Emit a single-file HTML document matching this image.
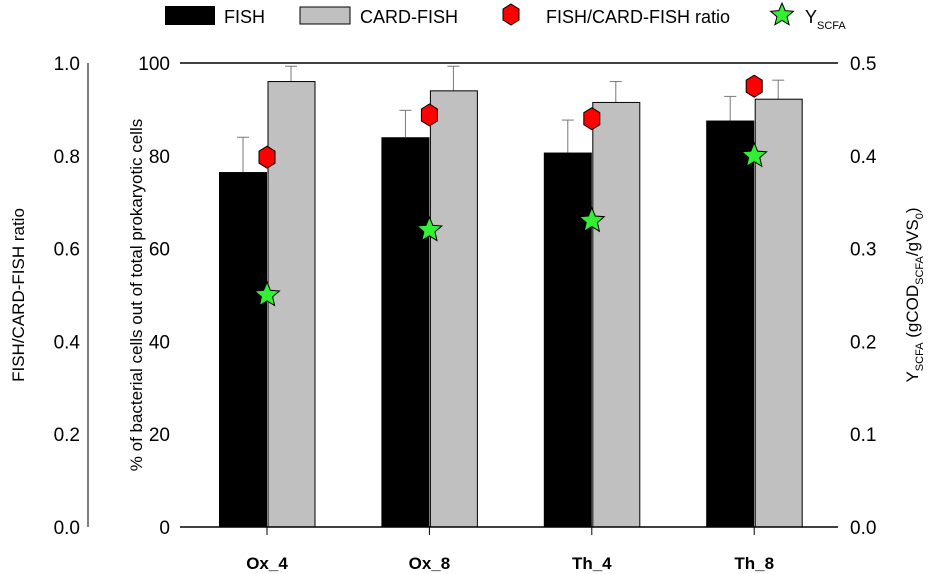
<!DOCTYPE html>
<html><head><meta charset="utf-8"><style>
body{margin:0;background:#fff;}
svg{display:block;font-family:"Liberation Sans",Arial,sans-serif;}
</style></head><body>
<svg id="chart" width="935" height="574">
<g id="legend">
 <rect x="165" y="6" width="50" height="19" fill="#000"/>
 <text x="224" y="23" font-size="18">FISH</text>
 <rect x="300" y="7" width="50" height="17" fill="#c0c0c0" stroke="#000"/>
 <text x="360" y="23" font-size="18">CARD-FISH</text>
 <polygon points="511,4 519,9 519,20 511,25 503,20 503,9" fill="#f00" stroke="#000"/>
 <text x="546" y="23" font-size="18">FISH/CARD-FISH ratio</text>
 <polygon id="legstar" fill="#33ee33" stroke="#000"/>
 <text x="805" y="23" font-size="18">Y<tspan font-size="11" dy="6">SCFA</tspan></text>
</g>
<text transform="translate(24,295) rotate(-90)" text-anchor="middle" font-size="17">FISH/CARD-FISH ratio</text>
<text transform="translate(142,295) rotate(-90)" text-anchor="middle" font-size="17">% of bacterial cells out of total prokaryotic cells</text>
<text transform="translate(918,295) rotate(-90)" text-anchor="middle" font-size="17">Y<tspan font-size="11" dy="5">SCFA</tspan><tspan dy="-5"> (gCOD</tspan><tspan font-size="11" dy="5">SCFA</tspan><tspan dy="-5">/gVS</tspan><tspan font-size="11" dy="5">0</tspan><tspan dy="-5">)</tspan></text>
<g id="g"></g>
</svg>
<script>
const categories=["Ox_4","Ox_8","Th_4","Th_8"];
const fishValues=[76.5,84,80.7,87.6];
const fishErr=[7.5,5.8,7,5.2];
const cardValues=[96,94,91.5,92.2];
const cardErr=[3.3,5.3,4.5,4.1];
const ratioValues=[0.797,0.888,0.88,0.95];
const yscfaValues=[0.25,0.32,0.33,0.40];
const midTicks=[0,20,40,60,80,100];
const leftTicks=["0.0","0.2","0.4","0.6","0.8","1.0"];
const rightTicks=["0.0","0.1","0.2","0.3","0.4","0.5"];

const NS="http://www.w3.org/2000/svg";
const g=document.getElementById('g');
const X0=180,X1=838,Y0=527,Y1=63;
const y=v=>Y0-(v/100)*(Y0-Y1);
const yR=v=>Y0-(v/1)*(Y0-Y1);
const yS=v=>Y0-(v/0.5)*(Y0-Y1);
const step=162.4;
const cx=i=>X0+87+step*i;
const BW=48;
function el(t,a){const e=document.createElementNS(NS,t);for(const k in a)e.setAttribute(k,a[k]);g.appendChild(e);return e;}
function star(cx,cy,r){let p=[];for(let i=0;i<10;i++){const rr=i%2?r*0.45:r;const a=-Math.PI/2+i*Math.PI/5;p.push((cx+rr*Math.cos(a)).toFixed(1)+","+(cy+rr*Math.sin(a)).toFixed(1));}return p.join(" ");}
function hex(cx,cy){return [[0,-11],[8,-6],[8,6],[0,11],[-8,6],[-8,-6]].map(p=>(cx+p[0])+","+(cy+p[1])).join(" ");}
document.getElementById('legstar').setAttribute('points',star(782,15,12));

categories.forEach((c,i)=>{
 const x=cx(i);
 let e=el('line',{x1:x-BW/2,x2:x-BW/2,y1:y(fishValues[i]+fishErr[i]),y2:y(fishValues[i]),stroke:'#777'});
 e=el('line',{x1:x-BW/2-6,x2:x-BW/2+6,y1:y(fishValues[i]+fishErr[i]),y2:y(fishValues[i]+fishErr[i]),stroke:'#777'});
 
 e=el('line',{x1:x+BW/2,x2:x+BW/2,y1:y(cardValues[i]+cardErr[i]),y2:y(cardValues[i]),stroke:'#777'});
 e=el('line',{x1:x+BW/2-6,x2:x+BW/2+6,y1:y(cardValues[i]+cardErr[i]),y2:y(cardValues[i]+cardErr[i]),stroke:'#777'});
 
 e=el('rect',{x:x-BW,y:y(fishValues[i]),width:BW,height:Y0-y(fishValues[i]),fill:'#000'});
 
 e=el('rect',{x:x+1,y:y(cardValues[i]),width:BW-1,height:Y0-y(cardValues[i]),fill:'#c0c0c0',stroke:'#000','stroke-width':1});
 
});
let ax=el('line',{x1:X0,x2:X1,y1:Y0,y2:Y0,stroke:'#000','stroke-width':1.5});

ax=el('line',{x1:X0,x2:X1,y1:Y1,y2:Y1,stroke:'#000','stroke-width':1.5});

ax=el('line',{x1:88,x2:88,y1:Y1,y2:Y0,stroke:'#000'});

categories.forEach((c,i)=>{
 const x=cx(i);
 el('line',{x1:x,x2:x,y1:Y0,y2:Y0+8,stroke:'#000'});
 const t=el('text',{x:x,y:Y0+42,'text-anchor':'middle','font-size':17,'font-weight':'bold'});t.textContent=c;
 
});
midTicks.forEach((v,i)=>{
 let t=el('text',{x:X0-10,y:y(v)+7,'text-anchor':'end','font-size':19});t.textContent=v;
 
 t=el('text',{x:80,y:y(v)+7,'text-anchor':'end','font-size':19});t.textContent=leftTicks[i];
 
 t=el('text',{x:X1+12,y:y(v)+7,'font-size':19});t.textContent=rightTicks[i];
 
});
categories.forEach((c,i)=>{
 const x=cx(i);
 let p=el('polygon',{points:hex(x,yR(ratioValues[i])),fill:'#f00',stroke:'#000'});
 
 p=el('polygon',{points:star(x,yS(yscfaValues[i]),13),fill:'#33ee33',stroke:'#000'});
 
});
</script>
</body></html>
